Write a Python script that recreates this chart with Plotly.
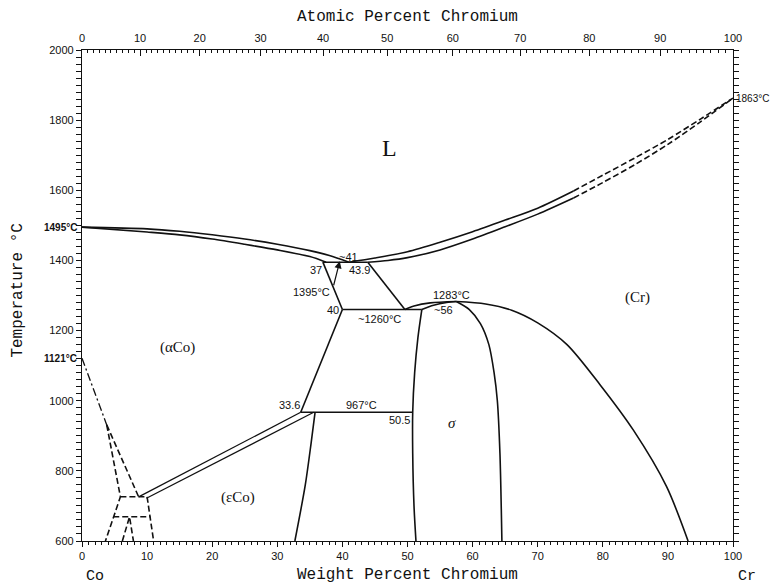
import plotly.graph_objects as go

# ---------------- data (weight % Cr, temperature °C) ----------------
liq_co_wt = [0, 10, 15, 20, 25, 30, 35, 38, 41]
liq_co_T = [1495, 1490, 1483, 1473, 1461, 1446, 1428, 1414, 1395]
sol_co_wt = [0, 10, 15, 20, 25, 30, 35, 37.5]
sol_co_T = [1495, 1481, 1473, 1461, 1446, 1430, 1411, 1395]

liq_cr_wt = [41, 45, 50, 55, 60, 65, 70, 75.5]
liq_cr_T = [1395, 1407, 1425, 1452, 1482, 1515, 1549, 1598]
liq_cr_dash_wt = [75.5, 80, 85, 90, 95, 100]
liq_cr_dash_T = [1598, 1643, 1693, 1745, 1803, 1863]
sol_cr_wt = [43.9, 47, 50, 55, 60, 65, 70, 75.5]
sol_cr_T = [1395, 1400, 1408, 1430, 1461, 1496, 1532, 1578]
sol_cr_dash_wt = [75.5, 80, 85, 90, 95, 100]
sol_cr_dash_T = [1578, 1622, 1674, 1731, 1795, 1863]

eut_wt = [37, 43.9]
eut_T = [1395, 1395]
aco_upper_wt = [37, 40]
aco_upper_T = [1395, 1260]
cr_upper_wt = [43.9, 49.6]
cr_upper_T = [1395, 1260]
line1260_wt = [40, 52.2]
line1260_T = [1260, 1260]
cr_left_wt = [49.6, 51, 53.5, 57.5]
cr_left_T = [1260, 1270, 1279, 1283]
sig_top_wt = [52.2, 54, 56, 57.5]
sig_top_T = [1260, 1272, 1280, 1283]
cr_right_wt = [57.5, 62, 66, 70, 74.5, 79.6, 84.7, 89.8, 93.1]
cr_right_T = [1283, 1276, 1258, 1222, 1160, 1045, 916, 755, 600]
sig_right_wt = [57.5, 59.5, 61.2, 62.5, 63.3, 63.8, 64.2, 64.5]
sig_right_T = [1283, 1260, 1220, 1160, 1080, 1000, 850, 600]
sig_left_wt = [52.2, 51.6, 51.1, 50.8, 50.8, 51.0, 51.3]
sig_left_T = [1260, 1180, 1080, 967, 850, 700, 600]
aco_lower_wt = [40, 33.6]
aco_lower_T = [1260, 967]
line967_wt = [33.6, 50.8]
line967_T = [967, 967]
eco_wt = [35.8, 35.2, 34.3, 32.7]
eco_T = [967, 880, 760, 600]
ae_upper_wt = [8.7, 33.6]
ae_upper_T = [726, 967]
ae_lower_wt = [9.9, 35.6]
ae_lower_T = [722, 967]

# magnetic (dashed) lines near Co
curie_wt = [0, 3.8]
curie_T = [1121, 931]
mag_a_wt = [3.8, 5.9, 3.6]
mag_a_T = [931, 726, 600]
mag_b_wt = [3.8, 8.7]
mag_b_T = [931, 726]
mag_h1_wt = [5.9, 10.0]
mag_h1_T = [726, 726]
mag_c_wt = [10.0, 11.0]
mag_c_T = [726, 600]
mag_h2_wt = [4.8, 10.5]
mag_h2_T = [669, 669]
mag_v_wt = [6.2, 7.3, 7.9]
mag_v_T = [600, 669, 600]

# top axis (atomic %)
at_ticks = [0, 10, 20, 30, 40, 50, 60, 70, 80, 90, 100]
M_CR, M_CO = 51.996, 58.933

# labels
phase_text = ["L", "(Cr)", "(αCo)", "(εCo)", "σ"]
phase_wt = [47.3, 85.3, 14.7, 24.0, 56.8]
phase_T = [1720, 1293, 1153, 725, 936]

note_text = ["~41", "37", "43.9", "1395°C", "40", "~1260°C", "1283°C", "~56",
             "33.6", "967°C", "50.5"]
note_wt = [40.9, 36.0, 42.7, 35.3, 38.6, 45.7, 56.7, 55.6, 31.9, 42.9, 48.8]
note_T = [1411, 1374, 1372, 1311, 1259, 1234, 1301, 1258, 987, 988, 945]


def at_to_wt(a):
    return 100.0 * a * M_CR / (a * M_CR + (100 - a) * M_CO)


fig = go.Figure()
BLACK = "#111"


def add(xs, ys, dash="solid", width=1.6, shape="spline"):
    fig.add_trace(go.Scatter(x=xs, y=ys, mode="lines",
                             line=dict(color=BLACK, width=width, dash=dash, shape=shape,
                                       smoothing=0.8),
                             hoverinfo="skip", showlegend=False))


for xs, ys in [(liq_co_wt, liq_co_T), (sol_co_wt, sol_co_T), (liq_cr_wt, liq_cr_T),
               (sol_cr_wt, sol_cr_T), (cr_left_wt, cr_left_T), (sig_top_wt, sig_top_T),
               (cr_right_wt, cr_right_T), (sig_right_wt, sig_right_T),
               (sig_left_wt, sig_left_T), (eco_wt, eco_T)]:
    add(xs, ys)
for xs, ys in [(eut_wt, eut_T), (aco_upper_wt, aco_upper_T), (cr_upper_wt, cr_upper_T),
               (line1260_wt, line1260_T), (aco_lower_wt, aco_lower_T),
               (line967_wt, line967_T)]:
    add(xs, ys, shape="linear")
for xs, ys in [(ae_upper_wt, ae_upper_T), (ae_lower_wt, ae_lower_T)]:
    add(xs, ys, width=1.3, shape="linear")
for xs, ys in [(liq_cr_dash_wt, liq_cr_dash_T), (sol_cr_dash_wt, sol_cr_dash_T)]:
    add(xs, ys, dash="6px,3px")
add(curie_wt, curie_T, dash="8px,3px,2px,3px", width=1.3, shape="linear")
for xs, ys in [(mag_a_wt, mag_a_T), (mag_b_wt, mag_b_T), (mag_h1_wt, mag_h1_T),
               (mag_c_wt, mag_c_T), (mag_h2_wt, mag_h2_T), (mag_v_wt, mag_v_T)]:
    add(xs, ys, dash="6px,3px", width=1.6, shape="linear")

# dummy traces for top axes
fig.add_trace(go.Scatter(x=[0, 100], y=[600, 600], xaxis="x2", mode="lines",
                         line=dict(width=0), hoverinfo="skip", showlegend=False))
fig.add_trace(go.Scatter(x=[0, 100], y=[600, 600], xaxis="x3", mode="lines",
                         line=dict(width=0), hoverinfo="skip", showlegend=False))

serif = "Liberation Serif"
sans = "Liberation Sans"
mono = "Liberation Mono"

annotations = []
sizes = [24, 15, 15, 15, 15]
for t, x, y, s in zip(phase_text, phase_wt, phase_T, sizes):
    annotations.append(dict(x=x, y=y, text=t, showarrow=False,
                            font=dict(family=serif, size=s, color=BLACK,
                                      style="italic" if t == "σ" else "normal")))
for t, x, y in zip(note_text, note_wt, note_T):
    annotations.append(dict(x=x, y=y, text=t, showarrow=False,
                            font=dict(family=sans, size=11, color=BLACK)))
# arrow from the 1395°C label
annotations.append(dict(x=39.6, y=1398, ax=38.6, ay=1325, axref="x", ayref="y",
                        text="", showarrow=True, arrowhead=2, arrowsize=1.2,
                        arrowwidth=1.2, arrowcolor=BLACK))
# temperature marks outside plot
annotations.append(dict(x=0, y=1495, xref="paper", text="<b>1495°C</b>", showarrow=False,
                        xanchor="right", xshift=-3, font=dict(family=sans, size=10, color=BLACK)))
annotations.append(dict(x=0, y=1121, xref="paper", text="<b>1121°C</b>", showarrow=False,
                        xanchor="right", xshift=-3, font=dict(family=sans, size=10, color=BLACK)))
annotations.append(dict(x=1, y=1863, xref="paper", text="1863°C", showarrow=False,
                        xanchor="left", xshift=1, font=dict(family=sans, size=10, color=BLACK)))
# axis titles
annotations.append(dict(x=0.5, y=0, xref="paper", yref="paper", yshift=-34,
                        yanchor="middle", xanchor="center",
                        text="Weight Percent Chromium", showarrow=False,
                        font=dict(family=mono, size=16, color=BLACK)))
annotations.append(dict(x=0.5, y=1, xref="paper", yref="paper", yshift=33,
                        yanchor="middle", xanchor="center",
                        text="Atomic Percent Chromium", showarrow=False,
                        font=dict(family=mono, size=16, color=BLACK)))
annotations.append(dict(x=0, y=0.51, xref="paper", yref="paper", xshift=-64,
                        yanchor="middle", xanchor="center",
                        text="Temperature °C", textangle=-90, showarrow=False,
                        font=dict(family=mono, size=16, color=BLACK)))
annotations.append(dict(x=0.02, y=0, xref="paper", yref="paper", yshift=-35,
                        yanchor="middle", xanchor="center",
                        text="Co", showarrow=False,
                        font=dict(family=mono, size=15, color=BLACK)))
annotations.append(dict(x=1, y=0, xref="paper", yref="paper", yshift=-35, xshift=14,
                        yanchor="middle", xanchor="center",
                        text="Cr", showarrow=False,
                        font=dict(family=mono, size=15, color=BLACK)))

tickfont = dict(family=sans, size=11, color=BLACK)
at_pos = [at_to_wt(a) for a in at_ticks]
at_minor = [at_to_wt(a) for a in range(0, 101)]

fig.update_layout(
    width=776, height=576,
    margin=dict(l=74, r=51, t=42, b=43),
    paper_bgcolor="white", plot_bgcolor="white",
    showlegend=False,
    annotations=annotations,
    xaxis=dict(range=[0, 100], tickmode="linear", tick0=0, dtick=10,
               ticks="outside", ticklen=5, tickcolor=BLACK, tickwidth=1,
               showline=True, linecolor=BLACK, linewidth=1.2, mirror=True,
               showgrid=False, zeroline=False, tickfont=tickfont,
               minor=dict(dtick=1, ticks="outside", ticklen=3, tickcolor=BLACK, showgrid=False)),
    yaxis=dict(range=[600, 2000], tickmode="linear", tick0=600, dtick=200,
               ticks="outside", ticklen=5, tickcolor=BLACK, tickwidth=1,
               showline=True, linecolor=BLACK, linewidth=1.2, mirror="allticks",
               showgrid=False, zeroline=False, tickfont=tickfont,
               minor=dict(dtick=20, ticks="outside", ticklen=3, tickcolor=BLACK, showgrid=False)),
    xaxis2=dict(range=[0, 100], overlaying="x", side="top", tickmode="array",
                tickvals=at_pos, ticktext=[str(a) for a in at_ticks],
                ticks="inside", ticklen=6, tickcolor=BLACK, showgrid=False,
                zeroline=False, showline=False, tickfont=tickfont,
                ticklabelstandoff=5),
    xaxis3=dict(range=[0, 100], overlaying="x", side="top", tickmode="array",
                tickvals=at_minor, ticktext=["" for _ in at_minor], showticklabels=False,
                ticks="inside", ticklen=3, tickcolor=BLACK, showgrid=False,
                zeroline=False, showline=False),
)

fig.write_html("out.html")
